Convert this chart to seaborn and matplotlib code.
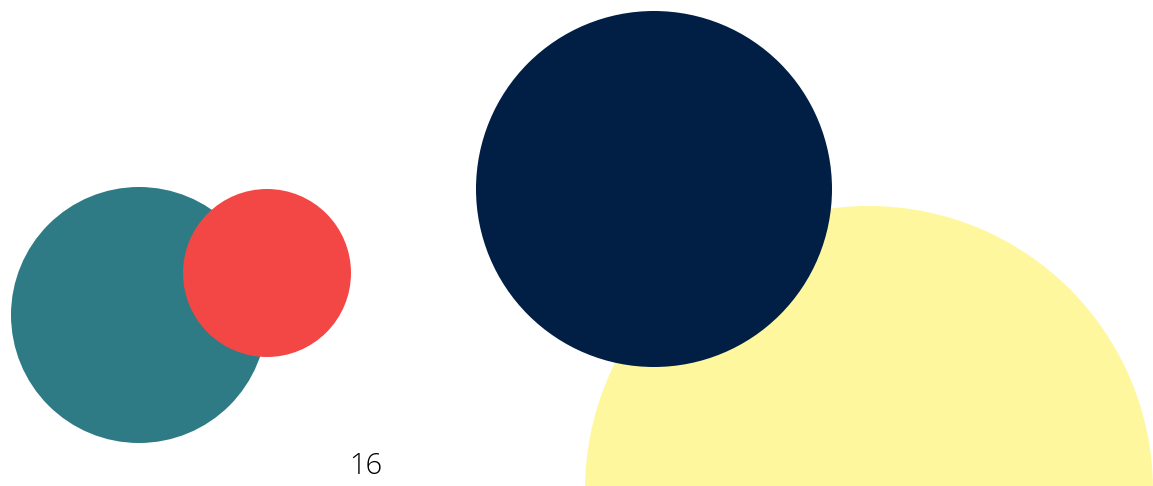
import matplotlib
matplotlib.use("Agg")
import matplotlib.pyplot as plt
from matplotlib.patches import Circle
import seaborn as sns
import pandas as pd

sns.set_theme(style="white")
plt.rcParams["font.family"] = ["Open Sans", "DejaVu Sans"]

# circles, in pixel units of the slide (x to the right, y downward)
names = ["yellow", "navy", "teal", "red"]
center_x = [869, 654, 139, 267]
center_y = [490, 189, 315, 273]
radius = [284, 178, 128, 84]
colors = ["#FEF79E", "#011E45", "#2E7B85", "#F24745"]
page_label = "16"

df = pd.DataFrame({"name": names, "x": center_x, "y": center_y, "r": radius, "color": colors})

fig = plt.figure(figsize=(11.53, 4.86), dpi=100)
ax = fig.add_axes([0, 0, 1, 1])
ax.set_xlim(0, 1153)
ax.set_ylim(486, 0)
ax.set_axis_off()

for _, row in df.iterrows():
    ax.add_patch(Circle((row.x, row.y), row.r, facecolor=row.color, edgecolor="none"))

ax.text(366, 466, page_label, ha="center", va="center", fontsize=21,
        fontweight="light", color="black")

fig.savefig("out.png", dpi=100, facecolor="white")
